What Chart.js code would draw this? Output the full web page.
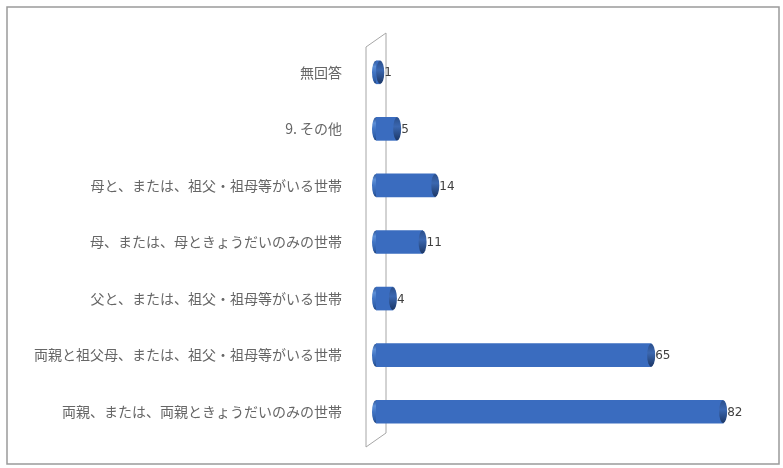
<!DOCTYPE html>
<html>
<head>
<meta charset="utf-8">
<script src="https://cdn.jsdelivr.net/npm/chart.js@4/dist/chart.umd.min.js"></script>
<style>
  html, body { margin: 0; padding: 0; background: #fff; }
  #wrap { width: 783px; height: 468px; position: relative; }
</style>
</head>
<body>
<div id="wrap"><canvas id="householdChart" width="783" height="468"></canvas></div>
<script>
const categories = [
    '無回答',
    '9. その他',
    '母と、または、祖父・祖母等がいる世帯',
    '母、または、母ときょうだいのみの世帯',
    '父と、または、祖父・祖母等がいる世帯',
    '両親と祖父母、または、祖父・祖母等がいる世帯',
    '両親、または、両親ときょうだいのみの世帯'
];
const counts = [1, 5, 14, 11, 4, 65, 82];
const axisMax = 90;

document.addEventListener('DOMContentLoaded', function () {
    const labelFont = '"Noto Sans CJK JP", "Noto Sans", sans-serif';

    // bar fill: cylinder-like vertical gradient per bar
    function barFill(context) {
        const el = context.element;
        const ctx = context.chart.ctx;
        if (!el || el.y === undefined) return '#3a6cbf';
        const h = el.height || 22;
        const g = ctx.createLinearGradient(0, el.y - h / 2, 0, el.y + h / 2);
        g.addColorStop(0, '#2d5596');
        g.addColorStop(0.25, '#5d8fd6');
        g.addColorStop(0.5, '#4275c4');
        g.addColorStop(0.85, '#2f5ea8');
        g.addColorStop(1, '#1f3f73');
        return g;
    }

    const framePlugin = {
        id: 'frame',
        beforeDraw(chart) {
            const ctx = chart.ctx;
            ctx.save();
            ctx.strokeStyle = '#9a9a9a';
            ctx.lineWidth = 1.5;
            ctx.strokeRect(7, 7, 772, 457);
            ctx.restore();
        }
    };

    const wallPlugin = {
        id: 'wall',
        beforeDatasetsDraw(chart) {
            const ctx = chart.ctx;
            const x0 = chart.scales.x.getPixelForValue(0);
            const a = chart.chartArea;
            const l = x0 - 10, r = x0 + 10;
            const topR = a.top - 11, topL = a.top + 3;
            const botR = a.bottom - 7, botL = a.bottom + 7;
            ctx.save();
            ctx.strokeStyle = '#a6a6a6';
            ctx.lineWidth = 1;
            ctx.beginPath();
            ctx.moveTo(l, botL);
            ctx.lineTo(l, topL);
            ctx.lineTo(r, topR);
            ctx.lineTo(r, botR);
            ctx.lineTo(l, botL);
            ctx.stroke();
            ctx.restore();
        }
    };

    const capPlugin = {
        id: 'caps',
        afterDatasetsDraw(chart) {
            const ctx = chart.ctx;
            const meta = chart.getDatasetMeta(0);
            ctx.save();
            meta.data.forEach(function (bar, i) {
                const h = bar.height;
                const g = ctx.createLinearGradient(0, bar.y - h / 2, 0, bar.y + h / 2);
                g.addColorStop(0, '#2a4f8c');
                g.addColorStop(0.4, '#3b67b0');
                g.addColorStop(1, '#1c3766');
                ctx.fillStyle = g;
                ctx.beginPath();
                ctx.ellipse(bar.x, bar.y, 4, h / 2, 0, 0, Math.PI * 2);
                ctx.fill();
                ctx.fillStyle = barFill({ element: bar, chart: chart });
                ctx.beginPath();
                ctx.ellipse(bar.base, bar.y, 4, h / 2, 0, Math.PI / 2, Math.PI * 1.5);
                ctx.fill();
                // value label
                ctx.fillStyle = '#404040';
                ctx.font = '12px "DejaVu Sans", sans-serif';
                ctx.textBaseline = 'middle';
                ctx.textAlign = 'left';
                ctx.fillText(String(counts[i]), bar.x + 4, bar.y + 1);
            });
            ctx.restore();
        }
    };

    const ctx = document.getElementById('householdChart').getContext('2d');
    new Chart(ctx, {
        type: 'bar',
        data: {
            labels: categories,
            datasets: [{
                data: counts,
                backgroundColor: barFill,
                borderWidth: 0,
                barThickness: 23
            }]
        },
        options: {
            indexAxis: 'y',
            responsive: false,
            animation: false,
            layout: { padding: { left: 0, right: 26, top: 44, bottom: 28 } },
            plugins: {
                legend: { display: false },
                tooltip: { enabled: false }
            },
            scales: {
                x: {
                    display: false,
                    min: 0,
                    max: axisMax
                },
                y: {
                    grid: { display: false },
                    border: { display: false },
                    ticks: {
                        color: '#666666',
                        padding: 26,
                        font: { family: labelFont, size: 14 }
                    },
                    afterFit: function (scale) {
                        scale.width = 376;
                        scale.paddingTop = 0;
                        scale.paddingBottom = 0;
                    }
                }
            }
        },
        plugins: [framePlugin, wallPlugin, capPlugin]
    });
});
</script>
</body>
</html>
